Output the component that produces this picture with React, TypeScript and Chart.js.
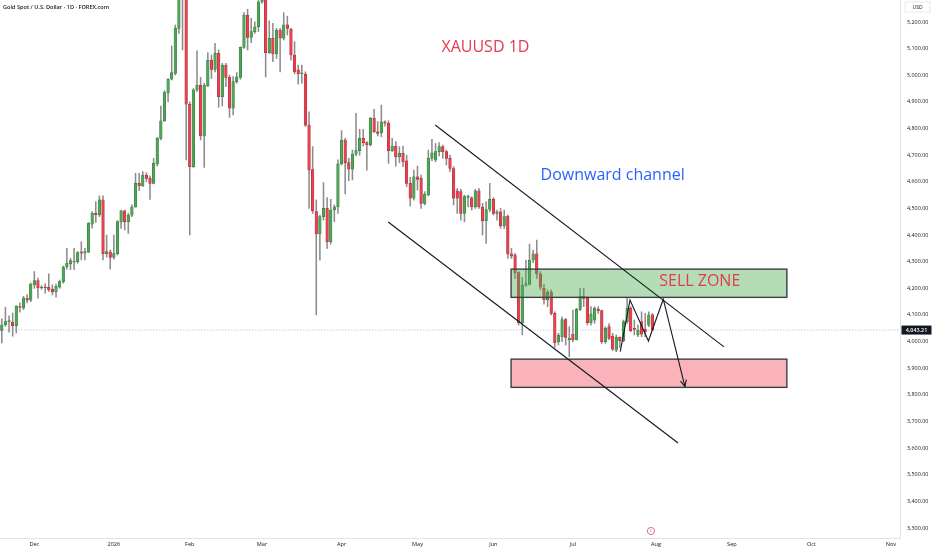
import React, { useEffect, useRef } from 'react';
import Chart from 'chart.js/auto';

// daily candles: [open, high, low, close]
const ohlc: number[][] = [
  [4042, 4085, 3995, 4063], [4063, 4129, 4057, 4075], [4075, 4097, 4035, 4078], [4073, 4107, 4020, 4060],
  [4060, 4135, 4032, 4132], [4130, 4145, 4110, 4128], [4126, 4170, 4120, 4163], [4163, 4176, 4145, 4155],
  [4155, 4220, 4150, 4216], [4213, 4263, 4200, 4229], [4229, 4238, 4163, 4201], [4201, 4210, 4196, 4205],
  [4204, 4218, 4182, 4202], [4204, 4254, 4188, 4194], [4197, 4213, 4175, 4186], [4186, 4216, 4167, 4207],
  [4204, 4231, 4200, 4225], [4225, 4284, 4219, 4279], [4280, 4350, 4272, 4294], [4292, 4313, 4270, 4304],
  [4298, 4350, 4270, 4302], [4300, 4338, 4294, 4334], [4337, 4375, 4307, 4332], [4332, 4350, 4307, 4338],
  [4336, 4447, 4334, 4445], [4441, 4488, 4426, 4482], [4482, 4526, 4447, 4476], [4476, 4547, 4469, 4532],
  [4532, 4547, 4307, 4330], [4330, 4400, 4317, 4338], [4337, 4344, 4272, 4316], [4316, 4400, 4309, 4330],
  [4330, 4454, 4325, 4451], [4448, 4494, 4425, 4491], [4491, 4494, 4419, 4450], [4450, 4482, 4406, 4475],
  [4475, 4513, 4469, 4506], [4506, 4632, 4504, 4594], [4594, 4632, 4567, 4584], [4584, 4638, 4582, 4625],
  [4625, 4634, 4600, 4613], [4613, 4622, 4534, 4594], [4594, 4688, 4592, 4669], [4666, 4767, 4659, 4763],
  [4763, 4884, 4757, 4829], [4829, 4942, 4826, 4935], [4933, 4988, 4901, 4985], [4985, 5110, 4982, 5010],
  [5007, 5189, 5001, 5176], [5176, 5340, 5157, 5310], [5310, 5600, 5095, 5420], [5420, 5450, 4682, 4891],
  [4891, 4900, 4400, 4657], [4657, 4950, 4654, 4945], [4945, 5092, 4938, 4963], [4963, 4992, 4757, 4772],
  [4772, 4970, 4654, 4963], [4960, 5085, 4957, 5057], [5057, 5076, 4988, 5022], [5022, 5120, 5013, 5082],
  [5082, 5095, 4880, 4920], [4920, 5045, 4885, 5038], [5038, 5045, 4957, 4992], [4992, 5001, 4842, 4876],
  [4876, 4995, 4851, 4976], [4976, 5010, 4970, 4994], [4992, 5107, 4985, 5105], [5105, 5235, 5101, 5226],
  [5226, 5248, 5095, 5142], [5142, 5214, 5122, 5164], [5164, 5201, 5157, 5182], [5182, 5283, 5164, 5276],
  [5276, 5320, 5270, 5290], [5290, 5330, 4994, 5085], [5085, 5205, 5082, 5139], [5139, 5195, 5051, 5080],
  [5080, 5176, 5063, 5170], [5170, 5176, 5013, 5139], [5139, 5235, 5132, 5189], [5189, 5222, 5151, 5176],
  [5172, 5176, 5057, 5076], [5076, 5126, 5005, 5013], [5020, 5038, 4967, 5005], [5005, 5038, 4970, 5008],
  [5004, 5013, 4807, 4813], [4813, 4863, 4500, 4644], [4646, 4732, 4481, 4491], [4488, 4532, 4100, 4404],
  [4404, 4475, 4306, 4469], [4469, 4597, 4456, 4500], [4500, 4541, 4350, 4375], [4375, 4534, 4366, 4494],
  [4494, 4513, 4450, 4506], [4506, 4682, 4481, 4667], [4667, 4792, 4663, 4757], [4757, 4763, 4554, 4672],
  [4672, 4688, 4604, 4647], [4647, 4719, 4607, 4704], [4704, 4857, 4697, 4717], [4717, 4797, 4700, 4763],
  [4763, 4797, 4734, 4747], [4747, 4751, 4644, 4738], [4738, 4842, 4734, 4838], [4838, 4872, 4784, 4788],
  [4788, 4826, 4772, 4782], [4784, 4888, 4769, 4825], [4825, 4829, 4809, 4820], [4820, 4829, 4669, 4717],
  [4717, 4763, 4713, 4734], [4734, 4751, 4659, 4694], [4694, 4732, 4672, 4707], [4707, 4734, 4657, 4675],
  [4679, 4700, 4582, 4594], [4594, 4617, 4509, 4538], [4538, 4644, 4531, 4619], [4619, 4659, 4569, 4609],
  [4613, 4625, 4500, 4519], [4519, 4563, 4513, 4554], [4551, 4719, 4547, 4688], [4688, 4759, 4679, 4709],
  [4682, 4744, 4675, 4713], [4713, 4747, 4697, 4732], [4732, 4738, 4688, 4713], [4713, 4719, 4663, 4688],
  [4688, 4700, 4638, 4650], [4650, 4657, 4513, 4538], [4566, 4575, 4481, 4538], [4563, 4572, 4456, 4481],
  [4481, 4550, 4450, 4544], [4541, 4550, 4506, 4545], [4540, 4544, 4494, 4506], [4506, 4572, 4500, 4566],
  [4566, 4575, 4500, 4506], [4504, 4519, 4400, 4454], [4454, 4525, 4369, 4496], [4496, 4594, 4488, 4534],
  [4534, 4541, 4475, 4481], [4481, 4494, 4456, 4487], [4487, 4500, 4425, 4434], [4434, 4494, 4425, 4469],
  [4471, 4475, 4312, 4329], [4329, 4350, 4312, 4321], [4325, 4331, 4237, 4259], [4259, 4263, 4062, 4071],
  [4071, 4241, 4025, 4212], [4212, 4306, 4206, 4218], [4215, 4366, 4212, 4306], [4306, 4344, 4296, 4329],
  [4329, 4381, 4237, 4254], [4254, 4263, 4194, 4204], [4200, 4215, 4140, 4156], [4156, 4194, 4131, 4185],
  [4187, 4194, 4100, 4106], [4106, 4112, 3978, 3996], [3999, 4031, 3987, 4024], [4018, 4093, 4000, 4083],
  [4083, 4087, 3987, 4016], [4006, 4056, 3943, 4012], [4028, 4118, 3999, 4006], [4006, 4125, 4006, 4121],
  [4121, 4200, 4116, 4171], [4171, 4200, 4131, 4162], [4162, 4168, 4062, 4071], [4071, 4131, 4062, 4103],
  [4080, 4131, 4068, 4125], [4121, 4131, 4106, 4116], [4116, 4118, 3993, 4000], [4000, 4056, 3993, 4050],
  [4056, 4068, 4006, 4012], [4021, 4031, 3966, 3971], [3968, 4025, 3962, 4016], [4016, 4018, 3978, 4003],
  [4003, 4081, 3999, 4075], [4075, 4162, 4068, 4125], [4125, 4131, 4037, 4041], [4050, 4081, 4025, 4046],
  [4025, 4062, 4018, 4043], [4075, 4112, 4018, 4028], [4046, 4106, 4018, 4037], [4062, 4112, 4056, 4100],
  [4100, 4106, 4043, 4043.21],
];

// empty future bars to the right edge
const TOTAL_BARS = 249;
const monthIdx = [9, 31, 52, 72, 94, 115, 136, 158, 181, 202, 224, 246];
const monthNames = ['Dec', '2026', 'Feb', 'Mar', 'Apr', 'May', 'Jun', 'Jul', 'Aug', 'Sep', 'Oct', 'Nov'];
const yTicks = [3300, 3400, 3500, 3600, 3700, 3800, 3900, 4000, 4100, 4200, 4300, 4400, 4500, 4600, 4700, 4800, 4900, 5000, 5100, 5200];
const Y_MIN = 3262.4;
const Y_MAX = 5282.6;
const lastPrice = 4043.21;

// drawings, in [bar index, price]
const upperChannel = [[119.9, 4813], [199.8, 3980]];
const lowerChannel = [[106.9, 4449], [187.1, 3619]];
const sellZone = [[140.9, 4272], [217.2, 4166]];
const buyZone = [[140.9, 3934], [217.2, 3828]];
const zigzag = [[171.1, 3962], [173.8, 4156], [178.9, 4002], [183.0, 4159], [189.0, 3831]];
const labelsText = [
  { text: 'XAUUSD 1D', at: [133.8, 5104], color: '#e53950' },
  { text: 'Downward channel', at: [169.0, 4623], color: '#2962ff' },
  { text: 'SELL ZONE', at: [193.1, 4225], color: '#e53950' },
];

const UP = '#4fa557';
const DOWN = '#e8414f';
const FONT = '"Open Sans", "DejaVu Sans", sans-serif';

const labels = Array.from({ length: TOTAL_BARS }, (_, i) => {
  const k = monthIdx.indexOf(i);
  return k >= 0 ? monthNames[k] : '';
});

const fmt = (v: number) => v.toLocaleString('en-US', { minimumFractionDigits: 2, maximumFractionDigits: 2 });

const overlayPlugin = {
  id: 'overlay',
  beforeDatasetsDraw(chart: any) {
    const { ctx, chartArea, scales } = chart;
    const y = scales.y.getPixelForValue(lastPrice);
    ctx.save();
    ctx.strokeStyle = '#b8bcc6';
    ctx.lineWidth = 0.7;
    ctx.setLineDash([1.5, 1.5]);
    ctx.beginPath();
    ctx.moveTo(chartArea.left, y);
    ctx.lineTo(chartArea.right, y);
    ctx.stroke();
    ctx.restore();
  },
  afterDatasetsDraw(chart: any) {
    const { ctx, chartArea, scales } = chart;
    const px = (i: number) => scales.x.getPixelForValue(i);
    const py = (v: number) => scales.y.getPixelForValue(v);
    ctx.save();
    ctx.beginPath();
    ctx.rect(chartArea.left, chartArea.top, chartArea.right - chartArea.left, chartArea.bottom - chartArea.top);
    ctx.clip();

    const zone = (z: number[][], fill: string) => {
      const x0 = px(z[0][0]);
      const y0 = py(z[0][1]);
      const x1 = px(z[1][0]);
      const y1 = py(z[1][1]);
      ctx.fillStyle = fill;
      ctx.fillRect(x0, y0, x1 - x0, y1 - y0);
      ctx.strokeStyle = '#3c3f48';
      ctx.lineWidth = 1.4;
      ctx.strokeRect(x0, y0, x1 - x0, y1 - y0);
    };
    zone(sellZone, 'rgba(76,175,80,0.42)');
    zone(buyZone, 'rgba(242,54,69,0.38)');

    const line = (pts: number[][]) => {
      ctx.beginPath();
      pts.forEach(([i, v], k) => (k === 0 ? ctx.moveTo(px(i), py(v)) : ctx.lineTo(px(i), py(v))));
      ctx.stroke();
    };
    ctx.strokeStyle = '#131722';
    ctx.lineWidth = 1.1;
    line(upperChannel);
    line(lowerChannel);
    line(zigzag);

    // arrow head on the last zigzag leg
    const [a, b] = zigzag.slice(-2);
    const ex = px(b[0]);
    const ey = py(b[1]);
    const ang = Math.atan2(ey - py(a[1]), ex - px(a[0]));
    ctx.beginPath();
    [-0.45, 0.45].forEach((d) => {
      ctx.moveTo(ex, ey);
      ctx.lineTo(ex - 7 * Math.cos(ang + d), ey - 7 * Math.sin(ang + d));
    });
    ctx.stroke();

    ctx.font = `16px ${FONT}`;
    ctx.textAlign = 'center';
    ctx.textBaseline = 'middle';
    labelsText.forEach((t) => {
      ctx.fillStyle = t.color;
      ctx.fillText(t.text, px(t.at[0]), py(t.at[1]));
    });
    ctx.restore();
  },
  afterDraw(chart: any) {
    const { ctx, chartArea, scales } = chart;
    ctx.save();
    ctx.fillStyle = '#131722';
    ctx.font = `600 5.6px ${FONT}`;
    ctx.textAlign = 'left';
    ctx.textBaseline = 'middle';
    ctx.fillText('Gold Spot / U.S. Dollar · 1D · FOREX.com', 3, 7);

    // currency box
    ctx.strokeStyle = '#e0e3eb';
    ctx.lineWidth = 0.8;
    ctx.strokeRect(905, 2, 25, 10);
    ctx.font = `5px ${FONT}`;
    ctx.textAlign = 'center';
    ctx.fillText('USD', 917.5, 7.3);

    // last price tag
    const y = scales.y.getPixelForValue(lastPrice);
    ctx.fillStyle = '#131722';
    ctx.fillRect(chartArea.right + 1.5, y - 4.5, 30, 9);
    ctx.fillStyle = '#ffffff';
    ctx.font = `600 5.4px ${FONT}`;
    ctx.fillText(fmt(lastPrice), chartArea.right + 16.5, y + 0.3);

    // event marker
    const ex = scales.x.getPixelForValue(179.6);
    ctx.strokeStyle = '#e0467c';
    ctx.lineWidth = 0.8;
    ctx.beginPath();
    ctx.arc(ex, chartArea.bottom - 7, 3.6, 0, Math.PI * 2);
    ctx.stroke();
    ctx.fillStyle = '#e0467c';
    ctx.font = `4px ${FONT}`;
    ctx.fillText('¢', ex, chartArea.bottom - 6.8);
    ctx.restore();
  },
};

const App: React.FC = () => {
  const canvasRef = useRef<HTMLCanvasElement>(null);
  const chartRef = useRef<Chart | null>(null);

  useEffect(() => {
    document.body.style.margin = '0';
    if (!canvasRef.current) return;
    if (chartRef.current) chartRef.current.destroy();

    const isUp = ohlc.map((c) => c[3] >= c[0]);

    chartRef.current = new Chart(canvasRef.current, {
      type: 'bar',
      data: {
        labels,
        datasets: [
          {
            label: 'body',
            data: ohlc.map((c) => [c[0], c[3]]) as any,
            backgroundColor: isUp.map((u) => (u ? UP : DOWN)),
            borderColor: isUp.map((u) => (u ? '#33753a' : '#9e2a36')),
            borderWidth: 0.5,
            borderSkipped: false,
            barThickness: 2.6,
            minBarLength: 1,
            grouped: false,
            order: 1,
            clip: 0,
          } as any,
          {
            label: 'wick',
            data: ohlc.map((c) => [c[2], c[1]]) as any,
            backgroundColor: '#8c8c8c',
            borderWidth: 0,
            barThickness: 0.9,
            grouped: false,
            order: 2,
            clip: 0,
          } as any,
        ],
      },
      options: {
        animation: false,
        responsive: true,
        maintainAspectRatio: false,
        events: [],
        layout: { padding: 0 },
        plugins: { legend: { display: false }, tooltip: { enabled: false } },
        scales: {
          x: {
            type: 'category',
            offset: true,
            grid: { display: false, drawTicks: false },
            border: { display: true, color: '#e0e3eb' },
            ticks: {
              autoSkip: false,
              maxRotation: 0,
              padding: 3,
              color: '#131722',
              font: { size: 5.6, family: FONT },
              callback: (_v: any, i: number) => labels[i],
            },
            afterFit: (s: any) => {
              s.height = 12;
              s.paddingLeft = 0;
              s.paddingRight = 0;
            },
          },
          y: {
            position: 'right',
            min: Y_MIN,
            max: Y_MAX,
            bounds: 'data',
            grid: { display: false, drawTicks: false },
            border: { display: true, color: '#e0e3eb' },
            afterBuildTicks: (s: any) => {
              s.ticks = yTicks.map((v) => ({ value: v }));
            },
            ticks: {
              padding: 7,
              color: '#131722',
              font: { size: 5.4, family: FONT },
              callback: (v: any) => fmt(Number(v)),
            },
            afterFit: (s: any) => {
              s.width = 32;
              s.paddingTop = 0;
              s.paddingBottom = 0;
            },
          },
        },
      },
      plugins: [overlayPlugin],
    });

    return () => {
      if (chartRef.current) {
        chartRef.current.destroy();
        chartRef.current = null;
      }
    };
  }, []);

  return (
    <div style={{ width: 932, height: 550, position: 'relative', background: '#ffffff' }}>
      <canvas ref={canvasRef} />
    </div>
  );
};

export default App;
